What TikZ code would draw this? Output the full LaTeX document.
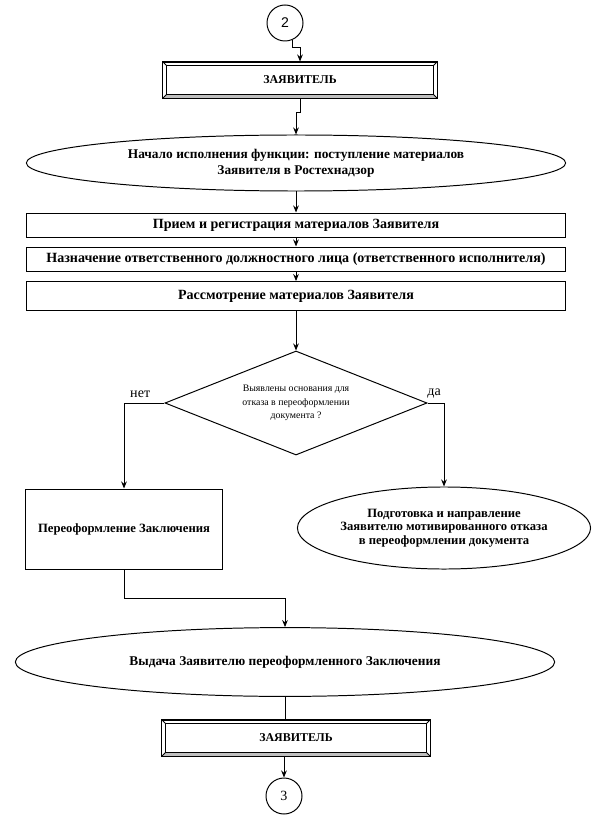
\documentclass[tikz,border=0pt]{standalone}
\usepackage{fontspec}
\setmainfont{Liberation Serif}
\setsansfont{Liberation Sans}
\usetikzlibrary{shapes.geometric,arrows.meta}

\begin{document}
\begin{tikzpicture}[x=0.025cm, y=-0.025cm, line width=0.7pt,
      >={Stealth[length=5pt,width=4pt]},
      font=\bfseries\fontsize{9.5}{11.5}\selectfont,
      circ/.style={draw, circle, minimum size=0.9cm, inner sep=0pt, font=\fontsize{10}{12}\selectfont},
      actor/.style={draw, minimum width=6.85cm, minimum height=0.9cm, font=\bfseries\fontsize{8.5}{10}\selectfont},
      rec/.style={draw, minimum width=13.45cm, inner sep=1pt, font=\bfseries\fontsize{10}{12}\selectfont},
      ell/.style={draw, ellipse, inner sep=0pt, align=center},
      dec/.style={draw, diamond, aspect=2.5, inner sep=0pt, minimum width=6.55cm, minimum height=2.6cm,
        align=center, font=\fontsize{7}{9.5}\selectfont},
      lbl/.style={font=\fontsize{10}{12}\selectfont}]
    \useasboundingbox (0,0) rectangle (594,820);
    \node[circ, font=\sffamily\fontsize{10}{12}\selectfont] (c2) at (285,23) {2};
    \node[actor] (z1) at (300,80) {ЗАЯВИТЕЛЬ};
    \node[ell, minimum width=13.48cm, minimum height=1.4cm] (e1) at (296,163) {Начало исполнения функции: поступление материалов\\Заявителя в Ростехнадзор};
    \node[rec, minimum height=0.6cm] (r1) at (296,225) {Прием и регистрация материалов Заявителя};
    \node[rec, minimum height=0.6cm] (r2) at (296,259) {Назначение ответственного должностного лица (ответственного исполнителя)};
    \node[rec, minimum height=0.72cm] (r3) at (296,296) {Рассмотрение материалов Заявителя};
    \node[dec] (d) at (296,403) {Выявлены основания для\\отказа в переоформлении\\документа ?};
    \node[draw, minimum width=4.9cm, minimum height=2cm, font=\bfseries\fontsize{9}{11}\selectfont] (p1) at (124,529) {Переоформление Заключения};
    \node[ell, minimum width=7.15cm, minimum height=2.05cm, font=\bfseries\fontsize{9}{9.5}\selectfont] (e2) at (444,528) {Подготовка и направление\\Заявителю мотивированного отказа\\в переоформлении документа};
    \node[ell, minimum width=13.48cm, minimum height=1.72cm] (e3) at (285,662) {Выдача Заявителю переоформленного Заключения};
    \node[actor, minimum width=6.7cm] (z2) at (296,738) {ЗАЯВИТЕЛЬ};
    \node[circ] (c3) at (284,796) {3};
    % bevel of the two actor boxes
    \foreach \z in {z1,z2} {
      \fill[gray!50] (\z.south west) -- ([shift={(3pt,3pt)}]\z.south west) -- ([shift={(-3pt,3pt)}]\z.south east) -- (\z.south east) -- cycle;
      \draw ([shift={(3pt,-3pt)}]\z.north west) rectangle ([shift={(-3pt,3pt)}]\z.south east);
      \draw (\z.north west) -- ++(3pt,-3pt) (\z.north east) -- ++(-3pt,-3pt)
            (\z.south west) -- ++(3pt,3pt) (\z.south east) -- ++(-3pt,3pt);
      \draw (\z.north west) rectangle (\z.south east);
    }
    \draw[->] (c2.-65) -- ++(0,8) -| (z1.north);
    \draw[->] (z1.south) -- ++(0,14) -| (e1.north);
    \draw[->] (e1.south) -- (r1.north);
    \draw[->] (r1) -- (r2);
    \draw[->] (r2) -- (r3);
    \draw[->] (r3) -- (d);
    \draw[->] (d.west) -| node[lbl, above, pos=0.3] {нет} (p1.north);
    \draw[->] (d.east) -| node[lbl, above, pos=0.2] {да} (e2.north);
    \draw[->] (p1.south) -- ++(0,29) -| (e3.north);
    \draw (e3.south) -- (e3.south |- z2.north);
    \draw[->] (z2.south -| c3) -- (c3.north);
  \end{tikzpicture}
\end{document}
